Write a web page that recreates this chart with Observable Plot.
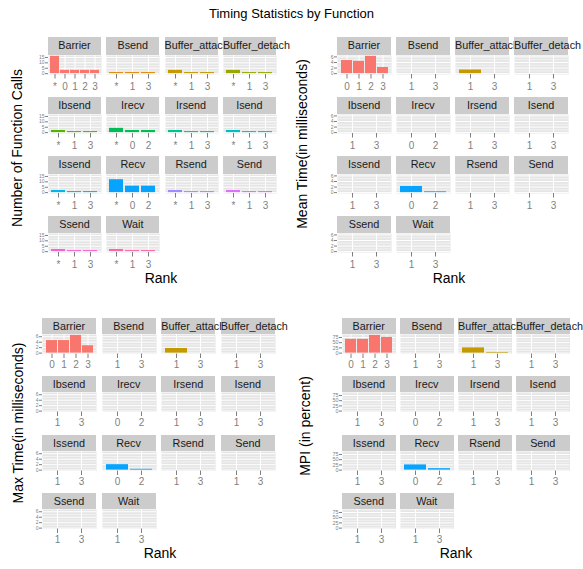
<!DOCTYPE html>
<html><head><meta charset="utf-8">
<script src="https://cdn.jsdelivr.net/npm/d3@7"></script>
<script src="https://cdn.jsdelivr.net/npm/@observablehq/plot@0.6"></script>
<style>
body{margin:0;background:#fff;}
#root{position:relative;width:583px;height:569px;overflow:hidden;font-family:"Liberation Sans",Arial,sans-serif;}
.strip{position:absolute;background:#CCCCCC;color:#1A1A1A;font-size:10.8px;text-align:center;white-space:nowrap;}
.cell{position:absolute;}
.lbl{position:absolute;white-space:nowrap;font-size:14px;color:#000;transform:translate(-50%,-50%);}
.ylab{transform:translate(-50%,-50%) rotate(-90deg);}
.title{position:absolute;left:0;width:583px;top:6px;text-align:center;font-size:13px;color:#000;}
</style></head><body><div id="root"></div>
<script>
const functions = ["Barrier","Bsend","Buffer_attach","Buffer_detach","Ibsend","Irecv","Irsend","Isend","Issend","Recv","Rsend","Send","Ssend","Wait"];
const palette = ["#F8766D","#E38900","#C49A00","#99A800","#53B400","#00BC56","#00C094","#00BFC4","#00B6EB","#06A4FF","#A58AFF","#DF70F8","#FB61D7","#FF66A8"];

const callRanks = [["*","0","1","2","3"],["*","1","3"],["*","1","3"],["*","1","3"],["*","1","3"],["*","0","2"],["*","1","3"],["*","1","3"],["*","1","3"],["*","0","2"],["*","1","3"],["*","1","3"],["*","1","3"],["*","1","3"]];
const callCounts = [[16,3,3,3,3],[1,1,1],[3,1,1],[3,1,1],[2,1,1],[4,2,2],[2,1,1],[2,1,1],[2,1,1],[12,6,6],[2,1,1],[2,1,1],[2,1,1],[2,1,1]];

const timeRanks = [["0","1","2","3"],["1","3"],["1","3"],["1","3"],["1","3"],["0","2"],["1","3"],["1","3"],["1","3"],["0","2"],["1","3"],["1","3"],["1","3"],["1","3"]];
const meanTimes = [[4.7,4.4,6.2,2.2],[0,0],[1.3,0],[0,0],[0,0],[0,0],[0,0],[0,0],[0,0],[2.2,0.3],[0,0],[0,0],[0,0],[0,0]];
const maxTimes = [[4.6,4.6,6.5,2.7],[0,0],[1.7,0],[0,0],[0,0],[0,0],[0,0],[0,0],[0,0],[2.0,0.3],[0,0],[0,0],[0,0],[0,0]];
const mpiPercent = [[66,66,85,75],[0,0],[25,3],[0,0],[0,0],[0,0],[0,0],[0,0],[0,0],[25,7],[0,0],[0,0],[0,0],[0,0]];

const callTicks = [0,5,10,15], callMinor = [2.5,7.5,12.5];
const timeTicks = [0,2,4,6], timeMinor = [1,3,5];
const mpiTicks = [0,25,50,75], mpiMinor = [12.5,37.5,62.5,87.5];

const chartTitle = "Timing Statistics by Function";
const xTitle = "Rank";

const quads = [
  {ranks: callRanks, values: callCounts, major: callTicks, minor: callMinor, name: "Number of Function Calls",
   left: 48, colStep: 58.3, w: 53, top: 37, rowStep: 59.5, sh: 17.5, ph: 19, ml: 16, yFont: 5, tickPad: 4, tx: 17, ty: 148, rx: 161, ry: 278},
  {ranks: timeRanks, values: meanTimes, major: timeTicks, minor: timeMinor, name: "Mean Time(in milliseconds)",
   left: 337, colStep: 59, w: 54, top: 37, rowStep: 59.5, sh: 17.5, ph: 19, ml: 16, yFont: 5, tickPad: 4, tx: 302, ty: 144, rx: 449, ry: 278},
  {ranks: timeRanks, values: maxTimes, major: timeTicks, minor: timeMinor, name: "Max Time(in milliseconds)",
   left: 42, colStep: 59.6, w: 54, top: 318, rowStep: 58.3, sh: 16, ph: 19.5, ml: 16, yFont: 5, tickPad: 2, tx: 18, ty: 423, rx: 160, ry: 553},
  {ranks: timeRanks, values: mpiPercent, major: mpiTicks, minor: mpiMinor, name: "MPI (in percent)",
   left: 342, colStep: 58, w: 53.5, top: 318, rowStep: 58.3, sh: 16, ph: 19.5, ml: 16, yFont: 5.5, tickPad: 2, tx: 305, ty: 426, rx: 456, ry: 553}
];

const root = document.getElementById("root");
const t = document.createElement("div");
t.className = "title"; t.textContent = chartTitle; root.appendChild(t);

function miniPlot(ranks, values, color, yDomain, q, showY) {
  const data = ranks.map((r, i) => ({rank: r, value: values[i]}));
  const ml = showY ? q.ml : 0;
  return Plot.plot({
    width: q.w + ml, height: q.ph + 26,
    marginLeft: ml, marginRight: 0, marginTop: 0, marginBottom: 26,
    style: {background: "transparent", overflow: "visible", fontFamily: "Liberation Sans, Arial, sans-serif"},
    x: {type: "band", domain: ranks, paddingInner: 0.1, paddingOuter: 0.15, axis: null},
    y: {domain: yDomain, axis: null},
    marks: [
      Plot.frame({fill: "#E5E5E5", stroke: "none"}),
      Plot.gridY(q.minor.filter(v => v <= yDomain[1]), {stroke: "#F2F2F2", strokeOpacity: 1}),
      Plot.gridY(q.major, {stroke: "#FFFFFF", strokeOpacity: 1}),
      Plot.gridX({stroke: "#FFFFFF", strokeOpacity: 1}),
      Plot.barY(data, {x: "rank", y: "value", fill: color, inset: 0}),
      Plot.axisX({tickSize: 4.5, tickPadding: q.tickPad, fontSize: 10, color: "#7F7F7F", label: null}),
      showY ? Plot.axisY(q.major, {tickSize: 3, tickPadding: 1, fontSize: q.yFont, color: "#7F7F7F", label: null}) : null
    ]
  });
}

for (const q of quads) {
  const mx = d3.max(q.values.flat());
  const yDomain = [-0.05 * mx, 1.05 * mx];
  functions.forEach((fn, i) => {
    const col = i % 4, row = Math.floor(i / 4);
    const x = q.left + col * q.colStep, y = q.top + row * q.rowStep;
    const strip = document.createElement("div");
    strip.className = "strip";
    Object.assign(strip.style, {left: x + "px", top: y + "px", width: q.w + "px", height: q.sh + "px", lineHeight: q.sh + "px"});
    strip.textContent = fn;
    root.appendChild(strip);
    const showY = col === 0;
    const cell = document.createElement("div");
    cell.className = "cell";
    const ml = showY ? q.ml : 0;
    Object.assign(cell.style, {left: (x - ml) + "px", top: (y + q.sh) + "px"});
    cell.appendChild(miniPlot(q.ranks[i], q.values[i], palette[i], yDomain, q, showY));
    root.appendChild(cell);
  });
  const yl = document.createElement("div");
  yl.className = "lbl ylab";
  Object.assign(yl.style, {left: q.tx + "px", top: q.ty + "px"});
  yl.textContent = q.name; root.appendChild(yl);
  const xl = document.createElement("div");
  xl.className = "lbl";
  Object.assign(xl.style, {left: q.rx + "px", top: q.ry + "px"});
  xl.textContent = xTitle; root.appendChild(xl);
}
</script></body></html>
